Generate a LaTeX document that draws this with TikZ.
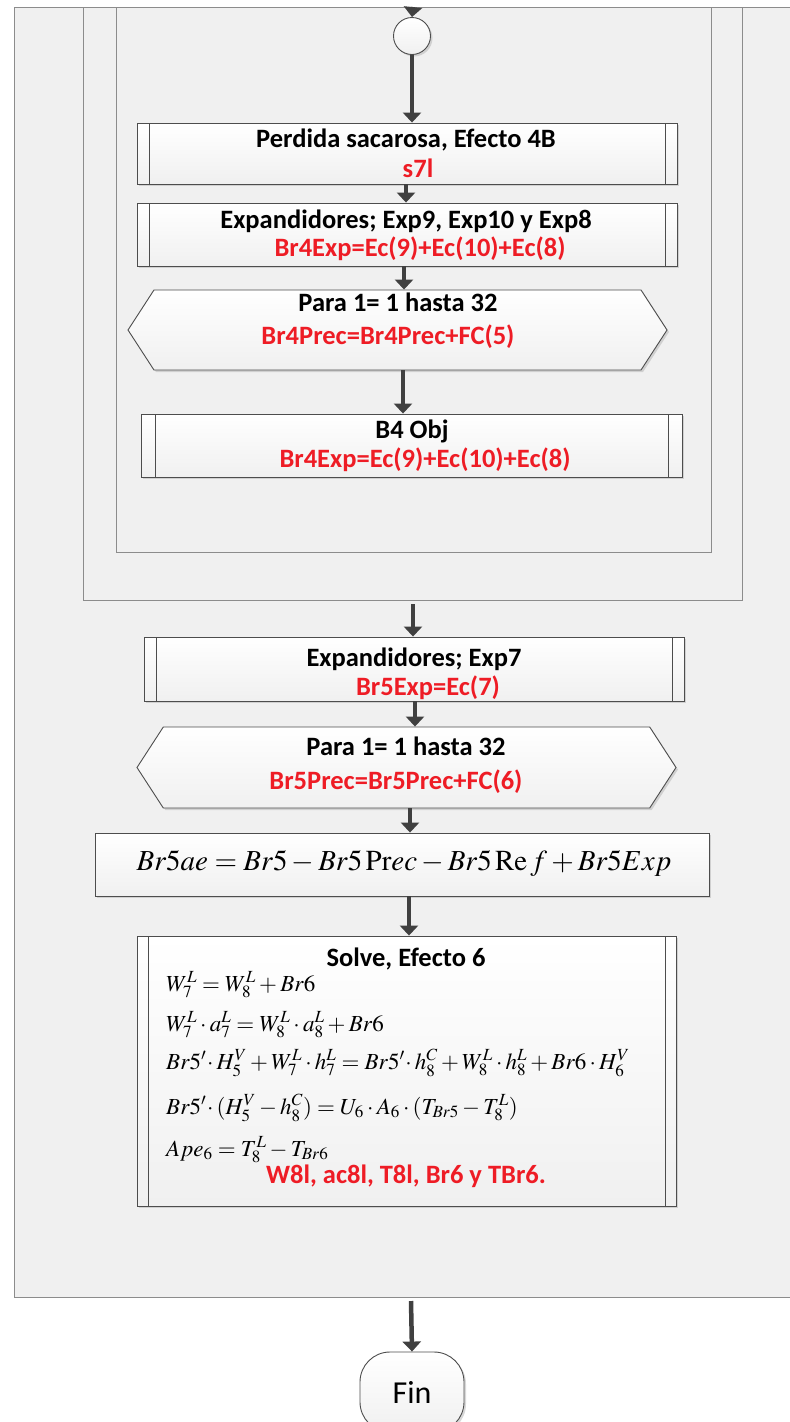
\documentclass[tikz,border=0pt]{standalone}
\usepackage{mathptmx}
\usepackage[no-math]{fontspec}
\setmainfont{Carlito}
\usetikzlibrary{arrows.meta,shapes.symbols,shadows}

\definecolor{framefill}{HTML}{F0F0F0}
\definecolor{frameline}{HTML}{8C8C8C}
\definecolor{boxline}{HTML}{4D4D4D}
\definecolor{arrowgray}{HTML}{404040}
\definecolor{redtxt}{HTML}{EE1C25}

\tikzset{
  frame/.style={draw=frameline, fill=framefill, line width=0.9pt},
  box/.style={draw=boxline, line width=0.9pt, inner sep=0pt,
    top color=white, bottom color=framefill,
    drop shadow={shadow xshift=2pt, shadow yshift=-2pt, fill=black!30, opacity=0.5}},
  subproc/.style={box, rectangle, path picture={
    \draw[boxline, line width=0.9pt]
      ([xshift=#1]path picture bounding box.north west) -- ([xshift=#1]path picture bounding box.south west)
      ([xshift=-#1]path picture bounding box.north east) -- ([xshift=-#1]path picture bounding box.south east);}},
  subproc/.default=12,
  loophex/.style={box, shape=signal, signal to=west and east, signal pointer angle=114},
  title/.style={font=\fontsize{26.5}{30}\selectfont\bfseries, inner sep=0pt},
  redline/.style={title, text=redtxt},
  flowarrow/.style={draw=arrowgray, line width=4.5pt, -{Triangle[width=18pt,length=10pt]}},
}

\begin{document}
\begin{tikzpicture}[x=1pt,y=-1pt]
\useasboundingbox[fill=white] (0,0) rectangle (790,1422);
\clip (0,0) rectangle (790,1422);

% nested loop frames
\draw[frame] (14,7) rectangle (800,1297);
\draw[frame] (83,7) rectangle (742,600);
\draw[frame] (116,7) rectangle (711,552);
\coordinate (topin) at (413,7);
\coordinate (fr2out) at (413,604);
\coordinate (fr1out) at (411,1301);

% inner loop
\node[box, circle, minimum size=37] (conn) at (412,36) {};
\node[subproc, minimum width=540, minimum height=61] (perd) at (407,153.5) {};
\node[title] (perdt) at (406,140) {Perdida sacarosa, Efecto 4B};
\node[redline] (perdr) at (418,168) {s7l};

\node[subproc, minimum width=540, minimum height=63] (exp9) at (407,234.5) {};
\node[title] (exp9t) at (406,221) {Expandidores; Exp9, Exp10 y Exp8};
\node[redline] (exp9r) at (420,249) {Br4Exp=Ec(9)+Ec(10)+Ec(8)};

\node[loophex, minimum width=539, minimum height=80] (para4) at (397.5,330) {};
\node[title] (para4t) at (398,302) {Para 1= 1 hasta 32};
\node[redline] (para4r) at (388,337) {Br4Prec=Br4Prec+FC(5)};

\node[subproc=14, minimum width=541, minimum height=63] (obj4) at (411.5,445.5) {};
\node[title] (obj4t) at (412,431) {B4 Obj};
\node[redline] (obj4r) at (425,460) {Br4Exp=Ec(9)+Ec(10)+Ec(8)};

% second level
\node[subproc, minimum width=540, minimum height=64] (exp7) at (414,669) {};
\node[title] (exp7t) at (414,659) {Expandidores; Exp7};
\node[redline] (exp7r) at (428,688) {Br5Exp=Ec(7)};

\node[loophex, minimum width=539, minimum height=81] (para5) at (406.5,767.5) {};
\node[title] (para5t) at (406,746) {Para 1= 1 hasta 32};
\node[redline] (para5r) at (396,782) {Br5Prec=Br5Prec+FC(6)};

\node[box, rectangle, minimum width=614, minimum height=63] (br5ae) at (402,864.5) {};
\node[font=\fontsize{29}{33}\selectfont, inner sep=0pt] (br5aet) at (404,864)
  {$Br5ae = Br5 - Br5\,\mathrm{Pr}ec - Br5\,\mathrm{Re}\,f + Br5Exp$};

\node[subproc=11, minimum width=539, minimum height=270] (solve) at (406.5,1071) {};
\node[title] (solvet) at (406,959) {Solve, Efecto 6};
\foreach \eq/\y [count=\i] in {
  {W_7^L = W_8^L + Br6}/985,
  {W_7^L \cdot a_7^L = W_8^L \cdot a_8^L + Br6}/1025,
  {Br5'\!\cdot H_5^V + W_7^L \cdot h_7^L = Br5'\!\cdot h_8^C + W_8^L \cdot h_8^L + Br6 \cdot H_6^V}/1063,
  {Br5'\!\cdot(H_5^V - h_8^C) = U_6 \cdot A_6 \cdot (T_{Br5} - T_8^L)}/1108,
  {Ape_6 = T_8^L - T_{Br6}}/1150}
  \node[font=\fontsize{23}{27}\selectfont, inner sep=0pt, anchor=west] (eq\i) at (166,\y) {$\eq$};
\node[redline] (solver) at (406,1176) {W8l, ac8l, T8l, Br6 y TBr6.};

% end
\node[box, rectangle, rounded corners=30, minimum width=104, minimum height=80,
  font=\fontsize{32}{36}\selectfont] (fin) at (412,1392) {Fin};

% connectors
\draw[flowarrow] (topin) -- (conn.north);
\draw[flowarrow] (conn.south) -- (conn.south |- perd.north);
\draw[flowarrow] ([xshift=-1]perd.south) -- ([xshift=-1]perd.south |- exp9.north);
\draw[flowarrow] ([xshift=-3]exp9.south) -- ([xshift=-3]exp9.south |- para4.north);
\draw[flowarrow] ([xshift=5.5]para4.south) -- ([xshift=5.5]para4.south |- obj4.north);
\draw[flowarrow] (fr2out) -- (fr2out |- exp7.north);
\draw[flowarrow] ([xshift=1]exp7.south) -- ([xshift=1]exp7.south |- para5.north);
\draw[flowarrow] ([xshift=3.5]para5.south) -- ([xshift=3.5]para5.south |- br5ae.north);
\draw[flowarrow] ([xshift=7]br5ae.south) -- ([xshift=7]br5ae.south |- solve.north);
\draw[flowarrow] (fr1out) -- (fin.north);
\end{tikzpicture}
\end{document}
